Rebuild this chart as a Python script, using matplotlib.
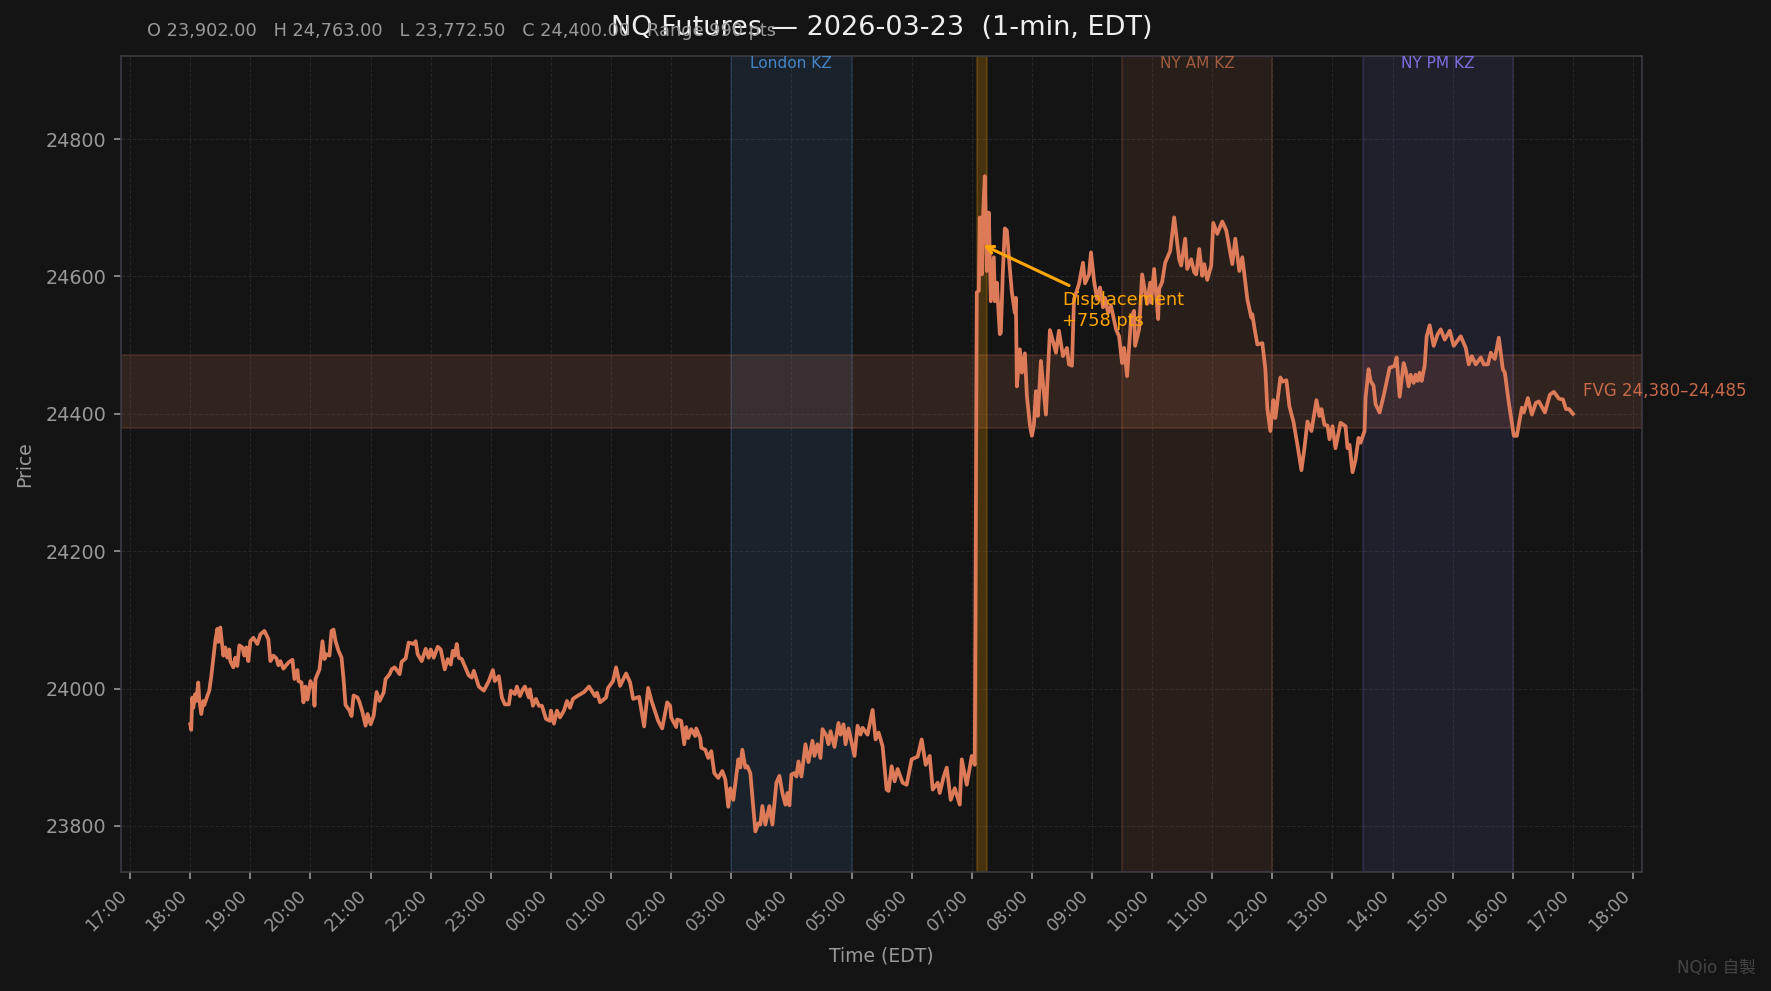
import matplotlib
matplotlib.use('Agg')
import pandas as pd
import matplotlib.pyplot as plt
import matplotlib.dates as mdates

# (minutes after 18:00, price)
evening = [(0,23948),(1,23940),(2,23987),(3,23972),(5,23992),(6,23982),(8,24009),(9,23984),(11,23963),(13,23982),
    (14,23976),(17,23989),(19,23997),(21,24018),(25,24069),(27,24087),(28,24068),(30,24089),(33,24048),(35,24060),
    (37,24045),(39,24057),(40,24040),(43,24031),(45,24045),(47,24033),(49,24063),(52,24060),(54,24048),(56,24060),
    (58,24040),(60,24069),(63,24074),(67,24065),(70,24079),(74,24084),(78,24072),(80,24040),(83,24048),(86,24044),
    (88,24034),(90,24040),(93,24029),(98,24038),(102,24042),(104,24014),(107,24027),(108,24011),(111,24009),(113,23980),
    (115,24003),(117,23984),(120,24011),(123,24001),(124,23975),(125,24014),(129,24028),(132,24069),(134,24043),(136,24050),
    (139,24048),(141,24084),(143,24086),(145,24069),(148,24055),(151,24045),(153,24014),(155,23976),(159,23968),(161,23960),
    (163,23990),(167,23987),(169,23980),(172,23965),(175,23946),(177,23963),(180,23948),(183,23960),(186,23995),(189,23982),
    (193,23994),(195,24014),(199,24021),(201,24028),(204,24031),(209,24021),(211,24039),(215,24044),(218,24067),(223,24065),
    (225,24069),(227,24050),(231,24040),(235,24058),(238,24045),(240,24057),(243,24045),(247,24061),(250,24057),(254,24028),
    (257,24043),(260,24035),(262,24055),(264,24048),(266,24065),(268,24045),(271,24043),(278,24019),(281,24016),(283,24026),
    (288,24003),(293,23997),(298,24011),(302,24027),(304,24011),(308,24018),(311,23987),(314,23977),(318,23977),(320,23997),
    (324,23992),(326,24003),(329,23989),(332,23999),(334,24003),(338,23987),(339,23999),(342,23975),(345,23985),(348,23975),
    (351,23975),(355,23956),(359,23953),(360,23968),(363,23949),(366,23968),(369,23958),(373,23968),(376,23982),(379,23972),
    (382,23985),(386,23989),(393,23995),(398,24003)]

overnight = [(404,23989),(406,23994),(409,23980),(415,23987),(417,24001),(422,24011),(425,24031),(429,24004),(435,24022),(439,24009),
    (442,23985),(448,23988),(453,23945),(457,24001),(460,23984),(467,23953),(471,23942),(476,23980),(479,23975),(480,23958),
    (485,23944),(486,23955),(490,23953),(493,23919),(495,23944),(497,23928),(500,23941),(504,23931),(505,23942),(509,23928),
    (510,23914),(514,23911),(517,23899),(520,23909),(523,23877),(527,23870),(531,23880),(534,23868),(537,23828),(539,23855),
    (542,23838),(547,23897),(549,23885),(551,23911),(554,23885),(556,23887),(559,23877),(561,23843),(564,23792),(567,23804),
    (569,23802),(571,23829),(574,23802),(578,23829),(581,23802),(585,23863),(588,23873),(591,23848),(594,23831),(596,23848),
    (598,23830),(600,23875),(603,23877),(605,23872),(607,23894),(610,23872),(614,23919),(617,23893),(621,23924),(623,23902),
    (626,23919),(629,23899),(631,23941),(635,23931),(637,23919),(639,23938),(643,23915),(647,23950),(649,23933),(652,23948),
    (654,23919),(657,23942),(663,23902),(666,23946),(669,23933),(671,23943),(676,23933),(681,23969),(684,23926),(687,23936),
    (691,23916),(695,23853),(697,23851),(700,23887),(703,23865),(706,23883),(711,23863),(715,23860),(720,23897),(723,23899),
    (726,23901),(730,23926),(734,23889),(738,23902),(741,23853),(746,23863),(748,23848),(752,23872),(755,23885),(759,23838),
    (763,23855),(768,23831),(770,23897),(773,23875),(775,23860),(780,23902),(783,23889)]

displacement = [(785,24577),(787,24579),(788,24686),(790,24603),(791,24680),(793,24746),(795,24608),(797,24693),(799,24564),(802,24628),
    (803,24564),(805,24591),(808,24516),(809,24518),(811,24606),(813,24670),(815,24667),(818,24611),(820,24577),(823,24547),
    (824,24569),(825,24440),(828,24494),(830,24460),(833,24488),(835,24426),(838,24384),(840,24368),(842,24384),(844,24433),
    (846,24397),(849,24477),(851,24445),(854,24399),(858,24522),(861,24506),(864,24489),(867,24521),(871,24484),(875,24496),
    (877,24472),(880,24470),(882,24567),(887,24589),(891,24620),(893,24590),(897,24603),(899,24635),(902,24594),(905,24567),
    (908,24584),(911,24555),(913,24569),(916,24547),(919,24557),(924,24523),(927,24513),(930,24474),(932,24496),(935,24455),
    (939,24540),(942,24550),(943,24499),(947,24523),(950,24603),(955,24560),(958,24591),(959,24562),(962,24611),(966,24538),
    (967,24582),(970,24592),(973,24620),(978,24637),(982,24686),(987,24625),(989,24616),(993,24655),(995,24611),(999,24625),
    (1002,24606),(1004,24603),(1007,24640),(1010,24601),(1012,24618),(1015,24595),(1019,24616)]

midday = [(1021,24678),(1025,24662),(1030,24680),(1034,24667),(1040,24618),(1043,24655),(1047,24608),(1050,24628),(1055,24567),(1059,24540),
    (1060,24545),(1062,24526),(1065,24501),(1070,24503),(1073,24465),(1075,24407),(1078,24375),(1081,24420),(1083,24394),(1088,24453),
    (1090,24447),(1094,24449),(1097,24411),(1101,24389),(1105,24355),(1109,24318),(1112,24350),(1115,24389),(1119,24375),(1124,24420),
    (1127,24397),(1129,24407),(1132,24384),(1135,24383),(1137,24363),(1140,24382),(1143,24350),(1148,24387),(1153,24382),(1155,24350),
    (1157,24355),(1160,24315),(1163,24333),(1166,24365),(1168,24358),(1172,24375)]

afternoon = [(1173,24423),(1176,24465),(1178,24448),(1181,24441),(1183,24414),(1187,24402),(1191,24426),(1197,24467),(1202,24470),(1204,24482),
    (1207,24425),(1211,24474),(1213,24464),(1216,24440),(1218,24457),(1221,24445),(1223,24457),(1225,24448),(1227,24460),(1229,24448),
    (1232,24470),(1234,24513),(1237,24529),(1241,24499),(1245,24516),(1248,24523),(1252,24508),(1257,24521),(1261,24499),(1268,24513),
    (1273,24496),(1276,24472),(1279,24484),(1283,24472),(1288,24482),(1291,24472),(1295,24472),(1298,24489),(1302,24480),(1306,24511),
    (1310,24465),(1312,24460),(1316,24416),(1321,24368),(1324,24368),(1329,24409),(1331,24402),(1335,24423),(1339,24399),(1343,24416),
    (1346,24418),(1352,24402),(1357,24428),(1361,24432),(1366,24422),(1370,24421),(1373,24407),(1376,24407),(1380,24400)]

sessions = [('London KZ', '03:00', '05:00', '#4a90d9', 0.12, 0.9),
            ('NY AM KZ', '09:30', '12:00', '#e07b54', 0.10, 0.65),
            ('NY PM KZ', '13:30', '16:00', '#7b6fe0', 0.12, 1.0)]
fvg_low, fvg_high = 24380, 24485
ohlc_text = 'O 23,902.00   H 24,763.00   L 23,772.50   C 24,400.00   Range 990 pts'

plt.rcParams['font.family'] = ['DejaVu Sans', 'Noto Sans CJK TC']
BG = '#141414'
LINE = '#dd7a58'

points = evening + overnight + displacement + midday + afternoon
df = pd.DataFrame(points, columns=['minute', 'price'])
df['time'] = pd.Timestamp('2026-03-22 18:00') + pd.to_timedelta(df['minute'], unit='min')


def at(day, hhmm):
    return pd.Timestamp(f'2026-03-{day} {hhmm}')


fig = plt.figure(figsize=(1771 / 150, 991 / 150), dpi=150, facecolor=BG)
ax = fig.add_axes([121.1 / 1771, 1 - 872 / 991, 1521 / 1771, 816 / 991], facecolor=BG)

ax.grid(True, color='#252525', ls='--', lw=0.5, zorder=0)
ax.set_axisbelow(True)

for name, start, end, color, fill, text_alpha in sessions:
    t0, t1 = at(23, start), at(23, end)
    ax.axvspan(t0, t1, facecolor=color, alpha=fill, zorder=1)
    ax.axvspan(t0, t1, facecolor='none', edgecolor=color, alpha=0.2, lw=0.8, zorder=1)
    ax.text(t0 + (t1 - t0) / 2, 24910, name, color=color, alpha=text_alpha,
            fontsize=7.4, ha='center', va='center')

ax.axhspan(fvg_low, fvg_high, facecolor=LINE, alpha=0.15, zorder=1)
ax.axhspan(fvg_low, fvg_high, facecolor='none', edgecolor=LINE, alpha=0.2, lw=0.8, zorder=1)
ax.axvspan(at(23, '07:05'), at(23, '07:15'), facecolor='#ffa500', alpha=0.22, edgecolor='#ffa500', lw=0.8, zorder=1)

ax.plot(df['time'], df['price'], color=LINE, lw=1.8, zorder=3)

ax.set_ylim(23733, 24921)
ax.xaxis.set_major_locator(mdates.HourLocator(interval=1))
ax.xaxis.set_major_formatter(mdates.DateFormatter('%H:%M'))
ax.set_yticks([23800, 24000, 24200, 24400, 24600, 24800])
ax.tick_params(colors='#999999', labelsize=8.4)
ax.tick_params(axis='y', labelsize=9.2)
plt.setp(ax.get_xticklabels(), rotation=45, ha='right')
for side in ax.spines.values():
    side.set_color('#3a3a42')
ax.set_xlabel('Time (EDT)', color='#999999', fontsize=9, labelpad=5.5)
ax.set_ylabel('Price', color='#999999', fontsize=9, labelpad=5.4)

ax.annotate('Displacement\n+758 pts', xy=(at(23, '07:08'), 24648), xytext=(at(23, '08:30'), 24550),
            color='#ffa500', fontsize=8.5, va='center',
            arrowprops=dict(arrowstyle='->', color='#ffa500', lw=1.5))
ax.text(at(23, '17:10'), 24433, f'FVG {fvg_low:,}–{fvg_high:,}', color='#c8694a', fontsize=8.0,
        va='center', clip_on=False)

fig.suptitle('NQ Futures — 2026-03-23  (1-min, EDT)', color='#eeeeee', fontsize=13, x=881.5 / 1771, y=1 - 28 / 991, va='center')
fig.text(147 / 1771, 1 - 31 / 991, ohlc_text, color='#999999', fontsize=8.5, va='center')
fig.text(1756 / 1771, 1 - 968 / 991, 'NQio 自製', color='#444444', fontsize=8, ha='right', va='center')

fig.savefig('out.png', dpi=150, facecolor=BG)
